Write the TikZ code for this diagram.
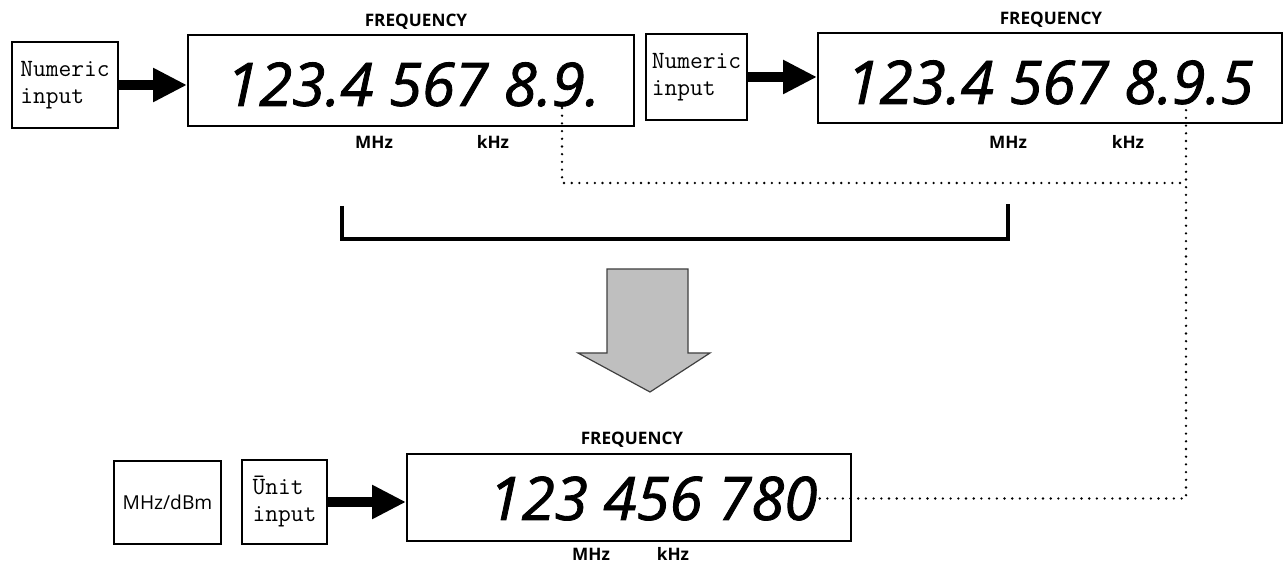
\documentclass[tikz,border=0pt]{standalone}
\usepackage{fontspec}
\setsansfont{Open Sans}
\newfontfamily\readoutfont[FakeBold=1.4]{Open Sans Italic}
\usetikzlibrary{arrows.meta}

\newcommand{\unitmarks}[4]{%
    \node[unitlbl] (#1mhz) at (#2, #4) {MHz};%
    \node[unitlbl] (#1khz) at (#3, #4) {kHz};%
}

\begin{document}
\begin{tikzpicture}[x=0.5pt, y=-0.5pt,
    frame/.style={draw, line width=1pt, inner sep=0pt},
    keybox/.style={frame, font=\fontsize{12.4}{13.5}\selectfont\ttfamily, align=left},
    readout/.style={inner sep=1pt, font=\fontsize{30}{36}\selectfont\readoutfont},
    caption/.style={inner sep=1pt, font=\fontsize{8.6}{10}\selectfont\sffamily\bfseries},
    unitlbl/.style={caption},
    bigarrow/.style={line width=5pt, -{Triangle[length=17pt, width=16pt]}},
    dotline/.style={line width=1.3pt, line cap=round, dash pattern=on 0pt off 3.85pt},
    bracket/.style={line width=2pt}]

    \useasboundingbox (0, 0) rectangle (1283, 565);

    % --- Top left: first key press ---
    \node[keybox, minimum width=53pt, minimum height=43pt] (num1) at (65, 85) {Numeric\\input};
    \node[frame, minimum width=223pt, minimum height=45.5pt] (disp1) at (411, 80.5) {};
    \node[readout] (digits1) at (413, 84.5) {123.4 567 8.9.};
    \node[caption] (freq1) at (416, 22) {FREQUENCY};
    \unitmarks{one}{374}{493}{142}
    \draw[bigarrow] (num1.east) -- (num1.east -| disp1.west);

    % --- Top right: second key press ---
    \node[keybox, minimum width=50.5pt, minimum height=43pt] (num2) at (696.5, 77) {Numeric\\input};
    \node[frame, minimum width=232pt, minimum height=45pt] (disp2) at (1050, 78) {};
    \node[readout] (digits2) at (1050, 82.5) {123.4 567 8.9.5};
    \node[caption] (freq2) at (1051, 20) {FREQUENCY};
    \unitmarks{two}{1008}{1128}{142}
    \draw[bigarrow] (num2.east) -- (num2.east -| disp2.west);

    % --- Bracket and block arrow ---
    \draw[bracket] (342, 206) |- (1008, 239) -- (1008, 204);
    \draw[fill=gray!50, draw=black!75, line width=0.6pt]
        (607, 269) -- (688, 269) -- (688, 353) -- (710, 353) -- (650, 392)
        -- (578, 353) -- (607, 353) -- cycle;

    % --- Bottom: unit key ---
    \node[frame, minimum width=53.5pt, minimum height=41.5pt,
          font=\fontsize{9.6}{11}\selectfont\sffamily] (unitkey) at (167.5, 502.5) {MHz/dBm};
    \node[keybox, minimum width=42.5pt, minimum height=42pt] (unit) at (284.5, 502) {Ūnit\\input};
    \node[frame, minimum width=222pt, minimum height=43.5pt] (disp3) at (629, 497.5) {};
    \node[readout] (digits3) at (653, 498.5) {123 456 780};
    \node[caption] (freq3) at (632, 440) {FREQUENCY};
    \unitmarks{three}{591}{673}{554}
    \draw[bigarrow] (unit.east) -- (unit.east -| disp3.west);

    % Dotted guide lines
    \coordinate (tap1) at (562, 108);
    \coordinate (tap2) at (1186, 106);
    \coordinate (join) at (1186, 183);
    \draw[dotline] (tap1) |- (join);
    \draw[dotline] (digits3.east) -| (tap2);

\end{tikzpicture}
\end{document}
